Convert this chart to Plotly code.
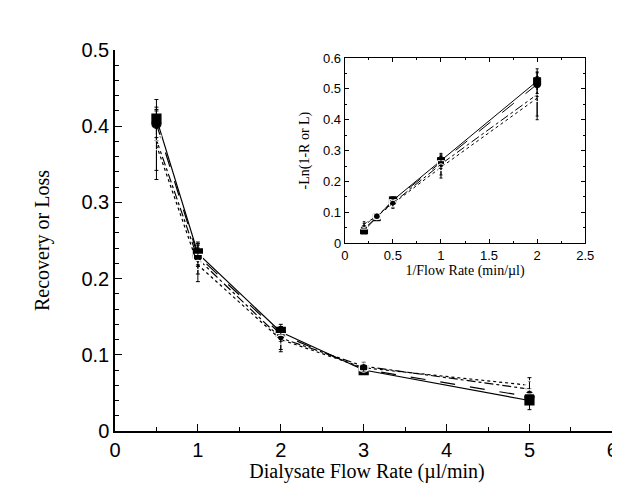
import plotly.graph_objects as go

flow = [0.5, 1, 2, 3, 5]
inv_flow = [2, 1, 0.5, 0.3333, 0.2]

rec_a = [0.410, 0.233, 0.130, 0.080, 0.040]
rec_b = [0.403, 0.230, 0.127, 0.081, 0.045]
rec_c = [0.382, 0.226, 0.122, 0.085, 0.055]
rec_d = [0.375, 0.218, 0.120, 0.083, 0.060]
err_a = [0.025, 0.015, 0.010, 0.005, 0.012]
err_b = [0.022, 0.014, 0.010, 0.005, 0.010]
err_c = [0.040, 0.020, 0.015, 0.006, 0.010]
err_d = [0.045, 0.022, 0.016, 0.006, 0.010]

ln_a = [0.525, 0.266, 0.139, 0.084, 0.041]
ln_b = [0.515, 0.262, 0.136, 0.085, 0.046]
ln_c = [0.482, 0.256, 0.130, 0.089, 0.057]
ln_d = [0.470, 0.246, 0.128, 0.087, 0.062]
lerr_a = [0.04, 0.02, 0.010, 0.005, 0.008]
lerr_c = [0.07, 0.035, 0.015, 0.006, 0.008]

x_ticks = [0, 1, 2, 3, 4, 5, 6]
x_labels = ["0", "1", "2", "3", "4", "5", "6"]
y_ticks = [0, 0.1, 0.2, 0.3, 0.4, 0.5]
y_labels = ["0", "0.1", "0.2", "0.3", "0.4", "0.5"]
ix_ticks = [0, 0.5, 1, 1.5, 2, 2.5]
ix_labels = ["0", "0.5", "1", "1.5", "2", "2.5"]
iy_ticks = [0, 0.1, 0.2, 0.3, 0.4, 0.5, 0.6]
iy_labels = ["0", "0.1", "0.2", "0.3", "0.4", "0.5", "0.6"]

styles = [
    dict(dash="solid", symbol="square", fill=True),
    dict(dash="longdash", symbol="circle", fill=True),
    dict(dash="dashdot", symbol="square-open", fill=False),
    dict(dash="dot", symbol="circle-open", fill=False),
]

fig = go.Figure()
main_series = [(rec_a, err_a), (rec_b, err_b), (rec_c, err_c), (rec_d, err_d)]
for (ys, es), st in zip(main_series, styles):
    fig.add_trace(go.Scatter(
        x=flow, y=ys, mode="lines+markers", xaxis="x", yaxis="y",
        line=dict(color="black", width=1.2, dash=st["dash"]),
        marker=dict(symbol=st["symbol"], size=9, color="black" if st["fill"] else "white",
                    line=dict(color="black", width=1.2)),
        error_y=dict(type="data", array=es, color="black", thickness=1, width=2),
        showlegend=False))

inset_series = [(ln_a, lerr_a), (ln_b, lerr_a), (ln_c, lerr_c), (ln_d, lerr_c)]
for (ys, es), st in zip(inset_series, styles):
    fig.add_trace(go.Scatter(
        x=inv_flow, y=ys, mode="lines+markers", xaxis="x2", yaxis="y2",
        line=dict(color="black", width=1, dash=st["dash"]),
        marker=dict(symbol=st["symbol"], size=7, color="black" if st["fill"] else "white",
                    line=dict(color="black", width=1)),
        error_y=dict(type="data", array=es, color="black", thickness=1, width=1.5),
        showlegend=False))

sans = "Liberation Sans, Arial, sans-serif"
serif = "Liberation Serif, Times New Roman, serif"

fig.update_layout(
    width=612, height=475,
    margin=dict(l=107, r=1, t=42, b=52),
    paper_bgcolor="white", plot_bgcolor="white",
    xaxis=dict(range=[0, 6.08], domain=[0, 1], tickvals=x_ticks, ticktext=x_labels,
               showgrid=False, zeroline=False, automargin=False,
               showline=True, linecolor="black", linewidth=1.5,
               ticks="inside", ticklen=7, tickcolor="black",
               minor=dict(dtick=0.5, ticks="inside", ticklen=4, tickcolor="black"),
               tickfont=dict(family=sans, size=20, color="black"),
               title=dict(text="Dialysate Flow Rate (µl/min)", font=dict(family=serif, size=20, color="black"), standoff=6)),
    yaxis=dict(range=[0, 0.5], domain=[0, 1], tickvals=y_ticks, ticktext=y_labels,
               showgrid=False, zeroline=False, automargin=False,
               showline=True, linecolor="black", linewidth=1.5,
               ticks="inside", ticklen=7, tickcolor="black",
               minor=dict(dtick=0.02, ticks="inside", ticklen=4, tickcolor="black"),
               tickfont=dict(family=sans, size=20, color="black"),
               title=dict(text="Recovery or Loss", font=dict(family=serif, size=20, color="black"), standoff=26)),
    xaxis2=dict(range=[0, 2.5], domain=[0.456, 0.933], anchor="y2", tickvals=ix_ticks, ticktext=ix_labels,
                showgrid=False, zeroline=False, automargin=False,
                showline=True, mirror="ticks", linecolor="black", linewidth=1.2,
                ticks="inside", ticklen=4, tickcolor="black",
                minor=dict(dtick=0.25, ticks="inside", ticklen=2, tickcolor="black"),
                tickfont=dict(family=sans, size=13, color="black"),
                title=dict(text="1/Flow Rate (min/µl)", font=dict(family=serif, size=14, color="black"), standoff=2)),
    yaxis2=dict(range=[0, 0.6], domain=[0.493, 0.979], anchor="x2", tickvals=iy_ticks, ticktext=iy_labels,
                showgrid=False, zeroline=False, automargin=False,
                showline=True, mirror="ticks", linecolor="black", linewidth=1.2,
                ticks="inside", ticklen=4, tickcolor="black",
                minor=dict(dtick=0.05, ticks="inside", ticklen=2, tickcolor="black"),
                tickfont=dict(family=sans, size=13, color="black"),
                title=dict(text="-Ln(1-R or L)", font=dict(family=serif, size=14, color="black"), standoff=10)),
)
fig.add_shape(type="rect", xref="x2 domain", yref="y2 domain", x0=0, x1=1, y0=0, y1=1,
              fillcolor="white", line=dict(width=0), layer="below")

fig.write_html("out.html")
